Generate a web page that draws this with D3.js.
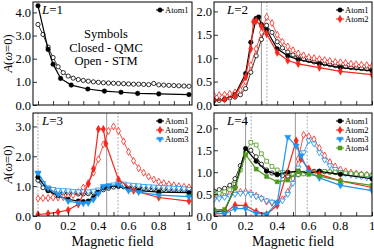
<!DOCTYPE html>
<html>
<head>
<meta charset="utf-8">
<script src="https://cdn.jsdelivr.net/npm/d3@7"></script>
<style>
  body { margin: 0; background: #fff; }
</style>
</head>
<body>
<svg width="374" height="250"></svg>
<script>
// STM grid (open symbols) - same field values in every panel
const stmField = [0, 0.033, 0.067, 0.1, 0.133, 0.167, 0.2, 0.233, 0.267, 0.3, 0.333, 0.367, 0.4, 0.433, 0.467,
  0.5, 0.533, 0.567, 0.6, 0.633, 0.667, 0.7, 0.733, 0.767, 0.8, 0.833, 0.867, 0.9, 0.933, 0.967, 1.0];

// L=1
const qmc1x = [0, 0.067, 0.1, 0.15, 0.22, 0.33, 0.44, 0.55, 0.66, 0.8, 1.0];
const qmc1a1 = [4.29, 2.4, 1.76, 1.15, 0.86, 0.69, 0.6, 0.55, 0.5, 0.48, 0.45];
const stm1a1 = [3.48, 3.05, 2.5, 2.05, 1.65, 1.4, 1.25, 1.16, 1.1, 1.06, 1.03, 1.0, 0.98, 0.96, 0.95, 0.94,
  0.93, 0.92, 0.91, 0.9, 0.9, 0.89, 0.88, 0.93, 0.87, 0.86, 0.85, 0.84, 0.83, 0.82, 0.81];

// L=2
const qmc2x1 = [0, 0.067, 0.133, 0.2, 0.233, 0.267, 0.283, 0.3, 0.333, 0.4, 0.467, 0.533, 0.667, 0.8, 1.0];
const qmc2a1 = [0.1, 0.12, 0.22, 0.67, 1.34, 1.85, 1.88, 1.72, 1.6, 1.2, 1.05, 0.97, 0.88, 0.8, 0.73];
const qmc2x2 = [0, 0.067, 0.133, 0.2, 0.233, 0.25, 0.267, 0.3, 0.333, 0.4, 0.467, 0.533, 0.667, 0.8, 1.0];
const qmc2a2 = [0.1, 0.12, 0.2, 0.6, 1.2, 1.78, 1.8, 1.68, 1.52, 1.12, 0.95, 0.88, 0.8, 0.72, 0.65];
const stm2a1 = [0.1, 0.1, 0.12, 0.15, 0.17, 0.22, 0.35, 0.7, 1.05, 1.4, 1.7, 1.55, 1.35, 1.22, 1.13, 1.07,
  1.02, 0.98, 0.95, 0.92, 0.9, 0.88, 0.86, 0.84, 0.83, 0.82, 0.8, 0.79, 0.78, 0.77, 0.76];
const stm2a2 = [0.2, 0.21, 0.22, 0.24, 0.27, 0.32, 0.5, 0.85, 1.2, 1.55, 1.88, 1.75, 1.5, 1.35, 1.25, 1.17,
  1.1, 1.06, 1.02, 1.0, 0.98, 0.96, 0.94, 0.92, 0.91, 0.9, 0.88, 0.87, 0.86, 0.85, 0.83];

// L=3
const qmc3x = [0, 0.067, 0.133, 0.2, 0.267, 0.3, 0.333, 0.367, 0.4, 0.433, 0.467, 0.533, 0.6, 0.667, 0.8, 1.0];
const qmc3a1 = [1.3, 0.85, 0.68, 0.56, 0.5, 0.48, 0.5, 0.62, 0.8, 0.95, 1.0, 1.0, 0.9, 0.85, 0.8, 0.78];
const qmc3a3 = [1.45, 0.93, 0.72, 0.5, 0.44, 0.42, 0.44, 0.55, 0.75, 1.0, 1.02, 1.05, 0.85, 0.8, 0.7, 0.65];
const qmc3x2 = [0, 0.067, 0.133, 0.2, 0.267, 0.333, 0.367, 0.4, 0.433, 0.45, 0.533, 0.633, 0.8, 1.0];
const qmc3a2 = [0.05, 0.08, 0.13, 0.2, 0.39, 1.07, 1.58, 2.91, 2.91, 2.42, 1.22, 0.85, 0.62, 0.5];
const stm3a1 = [1.2, 0.95, 0.85, 0.8, 0.78, 0.77, 0.76, 0.75, 0.74, 0.74, 0.75, 0.78, 0.82, 0.88, 0.93, 0.97,
  1.0, 0.98, 0.96, 0.95, 0.94, 0.93, 0.92, 0.91, 0.9, 0.89, 0.88, 0.87, 0.86, 0.86, 0.85];
const stm3a2 = [0.58, 0.6, 0.6, 0.62, 0.62, 0.63, 0.65, 0.7, 0.8, 0.95, 1.1, 1.45, 1.9, 2.4, 2.85, 3.0,
  2.85, 2.5, 2.15, 1.85, 1.6, 1.45, 1.32, 1.22, 1.15, 1.1, 1.06, 1.03, 1.0, 0.98, 0.96];
const stm3a3 = [1.42, 1.1, 0.95, 0.9, 0.87, 0.86, 0.85, 0.83, 0.82, 0.82, 0.82, 0.84, 0.88, 0.95, 1.0, 1.05,
  1.1, 1.08, 1.05, 1.03, 1.02, 1.0, 0.99, 0.98, 0.97, 0.96, 0.95, 0.94, 0.93, 0.92, 0.9];

// L=4
const qmc4x = [0, 0.067, 0.133, 0.2, 0.267, 0.333, 0.4, 0.467, 0.533, 0.6, 0.667, 0.8, 1.0];
const qmc4a1 = [0.1, 0.12, 0.65, 1.54, 1.25, 1.02, 0.95, 1.0, 1.02, 0.98, 1.02, 0.95, 0.85];
const qmc4a4 = [0.14, 0.15, 0.64, 1.4, 1.07, 0.9, 0.78, 0.82, 1.02, 0.95, 0.91, 0.8, 0.7];
const qmc4x2 = [0, 0.067, 0.133, 0.2, 0.267, 0.333, 0.4, 0.52, 0.55, 0.6, 0.667, 0.8, 1.0];
const qmc4a2 = [0.05, 0.06, 0.25, 0.24, 0.1, 0.04, 0.24, 1.72, 1.3, 1.08, 0.95, 0.8, 0.65];
const qmc4x3 = [0, 0.067, 0.133, 0.2, 0.267, 0.333, 0.4, 0.467, 0.52, 0.55, 0.6, 0.667, 0.8, 1.0];
const qmc4a3 = [0.08, 0.05, 0.17, 0.17, 0.06, 0.04, 0.3, 1.8, 1.6, 1.38, 1.0, 0.87, 0.7, 0.58];
const stm4a1 = [0.57, 0.6, 0.63, 0.7, 0.85, 1.15, 1.45, 1.5, 1.35, 1.18, 1.05, 0.98, 0.94, 0.92, 0.91, 0.92,
  0.94, 0.97, 1.0, 1.02, 1.02, 1.01, 1.0, 0.99, 0.98, 0.97, 0.96, 0.95, 0.94, 0.93, 0.92];
const stm4a2 = [0.42, 0.44, 0.46, 0.5, 0.53, 0.55, 0.55, 0.52, 0.46, 0.4, 0.33, 0.3, 0.3, 0.38, 0.55, 0.85,
  1.3, 1.85, 1.82, 1.75, 1.55, 1.38, 1.23, 1.13, 1.06, 1.02, 0.99, 0.97, 0.95, 0.94, 0.92];
const stm4a3 = [0.38, 0.4, 0.43, 0.46, 0.5, 0.52, 0.53, 0.5, 0.45, 0.4, 0.35, 0.32, 0.3, 0.35, 0.5, 0.75,
  1.1, 1.45, 1.72, 1.65, 1.45, 1.28, 1.15, 1.07, 1.0, 0.97, 0.94, 0.92, 0.9, 0.88, 0.87];
const stm4a4 = [0.5, 0.52, 0.55, 0.6, 0.72, 1.05, 1.45, 1.68, 1.62, 1.42, 1.25, 1.13, 1.05, 1.0, 0.97, 0.95,
  0.95, 0.96, 0.98, 1.0, 1.02, 1.02, 1.01, 1.0, 0.99, 0.98, 0.97, 0.96, 0.95, 0.94, 0.93];

// reference field markers (solid / dashed vertical lines)
const solid2 = [0.3], dashed2 = [0.335];
const solid3 = [0.455], dashed3 = [0, 0.53];
const solid4 = [0.2, 0.515], dashed4 = [0.235, 0.59];

const xTicks = [0, 0.1, 0.2, 0.3, 0.4, 0.5, 0.6, 0.7, 0.8, 0.9, 1.0];
const xLabels = [0, 0.2, 0.4, 0.6, 0.8, 1.0];

const FONT = "Liberation Serif, DejaVu Serif, Times New Roman, Times, serif";

const atoms = {
  Atom1: { color: "#000000", sym: d3.symbolCircle },
  Atom2: { color: "#f5261b", sym: d3.symbolDiamond },
  Atom3: { color: "#1e96f0", sym: d3.symbolTriangle, rot: 180 },
  Atom4: { color: "#4e9a1e", sym: d3.symbolSquare }
};

const panels = [
  { L: 1, xr: [33, 192], yr: [105, 2], xd: [-0.033, 1.02], yd: [0, 4.45], yt: [0, 1, 2, 3, 4], xlab: false,
    solid: [], dashed: [],
    series: [{ atom: "Atom1", qx: qmc1x, qy: qmc1a1, sy: stm1a1 }] },
  { L: 2, xr: [214, 372], yr: [105, 2], xd: [0, 1.0], yd: [0, 2.2], yt: [0, 0.5, 1, 1.5, 2], xlab: false,
    solid: solid2, dashed: dashed2,
    series: [{ atom: "Atom1", qx: qmc2x1, qy: qmc2a1, sy: stm2a1 },
             { atom: "Atom2", qx: qmc2x2, qy: qmc2a2, sy: stm2a2 }] },
  { L: 3, xr: [33, 192], yr: [216, 113], xd: [-0.033, 1.02], yd: [0, 3.45], yt: [0, 1, 2, 3], xlab: true,
    solid: solid3, dashed: dashed3,
    series: [{ atom: "Atom1", qx: qmc3x, qy: qmc3a1, sy: stm3a1 },
             { atom: "Atom2", qx: qmc3x2, qy: qmc3a2, sy: stm3a2 },
             { atom: "Atom3", qx: qmc3x, qy: qmc3a3, sy: stm3a3 }] },
  { L: 4, xr: [214, 372], yr: [216, 113], xd: [0, 1.0], yd: [0, 2.35], yt: [0, 0.5, 1, 1.5, 2], xlab: true,
    solid: solid4, dashed: dashed4,
    series: [{ atom: "Atom1", qx: qmc4x, qy: qmc4a1, sy: stm4a1 },
             { atom: "Atom2", qx: qmc4x2, qy: qmc4a2, sy: stm4a2 },
             { atom: "Atom3", qx: qmc4x3, qy: qmc4a3, sy: stm4a3 },
             { atom: "Atom4", qx: qmc4x, qy: qmc4a4, sy: stm4a4 }] }
];

const svg = d3.select("svg");

function txt(g) {
  return g.append("text").attr("font-family", FONT);
}

function marker(g, atom, x, y, open) {
  const a = atoms[atom];
  g.append("path")
    .attr("d", d3.symbol().type(a.sym).size(open ? 14 : 17)())
    .attr("transform", `translate(${x},${y})` + (a.rot ? ` rotate(${a.rot})` : ""))
    .attr("fill", open ? "#fff" : a.color)
    .attr("stroke", a.color)
    .attr("stroke-width", open ? 0.8 : 0.4);
}

panels.forEach(p => {
  const x = d3.scaleLinear().domain(p.xd).range(p.xr);
  const y = d3.scaleLinear().domain(p.yd).range(p.yr);
  const g = svg.append("g");
  const clipId = "clip" + p.L;
  svg.append("clipPath").attr("id", clipId).append("rect")
    .attr("x", p.xr[0]).attr("y", p.yr[1]).attr("width", p.xr[1] - p.xr[0]).attr("height", p.yr[0] - p.yr[1]);

  // vertical reference lines
  p.solid.forEach(v => g.append("line").attr("x1", x(v)).attr("x2", x(v)).attr("y1", p.yr[0]).attr("y2", p.yr[1])
    .attr("stroke", "#999").attr("stroke-width", 1));
  p.dashed.forEach(v => g.append("line").attr("x1", x(v)).attr("x2", x(v)).attr("y1", p.yr[0]).attr("y2", p.yr[1])
    .attr("stroke", "#777").attr("stroke-width", 0.6).attr("stroke-dasharray", "2,1.5"));

  const plot = g.append("g").attr("clip-path", `url(#${clipId})`);
  const line = d3.line().x(d => x(d[0])).y(d => y(d[1]));

  // STM (open symbols)
  p.series.forEach(s => {
    const pts = stmField.map((f, i) => [f, s.sy[i]]);
    plot.append("path").attr("d", line(pts)).attr("fill", "none")
      .attr("stroke", atoms[s.atom].color).attr("stroke-width", 0.8);
    pts.forEach(d => marker(plot, s.atom, x(d[0]), y(d[1]), true));
  });
  // QMC (closed symbols)
  p.series.forEach(s => {
    const pts = s.qx.map((f, i) => [f, s.qy[i]]);
    plot.append("path").attr("d", line(pts)).attr("fill", "none")
      .attr("stroke", atoms[s.atom].color).attr("stroke-width", 1.2);
    pts.forEach(d => marker(plot, s.atom, x(d[0]), y(d[1]), false));
  });

  // axes with inward ticks
  const xa = d3.axisBottom(x).tickValues(xTicks).tickSizeInner(-4).tickSizeOuter(0).tickFormat("");
  g.append("g").attr("transform", `translate(0,${p.yr[0]})`).call(xa)
    .call(a => a.select(".domain").remove())
    .call(a => a.selectAll("line").attr("stroke-width", 0.8));
  const ya = d3.axisLeft(y).tickValues(p.yt).tickSizeInner(-4).tickSizeOuter(0).tickFormat("");
  g.append("g").attr("transform", `translate(${p.xr[0]},0)`).call(ya)
    .call(a => a.select(".domain").remove())
    .call(a => a.selectAll("line").attr("stroke-width", 0.8));

  // tick labels
  p.yt.forEach(v => txt(g).attr("x", p.xr[0] - 2).attr("y", y(v) + 4.5)
    .attr("text-anchor", "end").attr("font-size", 12.5).text(d3.format(".1f")(v)));
  if (p.xlab) {
    xLabels.forEach(v => txt(g).attr("x", x(v)).attr("y", 230)
      .attr("text-anchor", "middle").attr("font-size", 12.5).text(v === 0 || v === 1 ? v : v.toFixed(1)));
  }

  g.append("rect").attr("x", p.xr[0]).attr("y", p.yr[1]).attr("width", p.xr[1] - p.xr[0])
    .attr("height", p.yr[0] - p.yr[1]).attr("fill", "none").attr("stroke", "#000").attr("stroke-width", 1);

  // panel label
  const lt = txt(g).attr("x", p.xr[0] + (p.L % 2 ? 9 : 13)).attr("y", p.yr[1] + 12).attr("font-size", 13);
  lt.append("tspan").attr("font-style", "italic").text("L");
  lt.append("tspan").text("=" + p.L);

  // legend
  p.series.forEach((s, i) => {
    const ly = p.yr[1] + 8 + i * 9;
    const lx = p.xr[1] - 36;
    g.append("line").attr("x1", lx).attr("x2", lx + 8).attr("y1", ly).attr("y2", ly)
      .attr("stroke", atoms[s.atom].color).attr("stroke-width", 1);
    marker(g, s.atom, lx + 4, ly, false);
    txt(g).attr("x", lx + 9).attr("y", ly + 3).attr("font-size", 8.5).text(s.atom);
  });

  // y-axis title on left panels
  if (p.L % 2) {
    const yc = (p.yr[0] + p.yr[1]) / 2;
    const t = txt(svg).attr("transform", `translate(12,${yc}) rotate(-90)`)
      .attr("text-anchor", "middle").attr("font-size", 12.5);
    t.append("tspan").attr("font-style", "italic").text("A");
    t.append("tspan").text("(");
    t.append("tspan").attr("font-style", "italic").text("ω");
    t.append("tspan").text("=0)");
  }
  if (p.xlab) {
    txt(svg).attr("x", (p.xr[0] + p.xr[1]) / 2).attr("y", 246)
      .attr("text-anchor", "middle").attr("font-size", 14).text("Magnetic field");
  }
});

// annotation in L=1 panel
["Symbols", "Closed - QMC", "Open - STM"].forEach((s, i) => {
  txt(svg).attr("x", 106).attr("y", 38 + i * 13.5).attr("text-anchor", "middle")
    .attr("font-size", 12.5).text(s);
});
</script>
</body>
</html>
